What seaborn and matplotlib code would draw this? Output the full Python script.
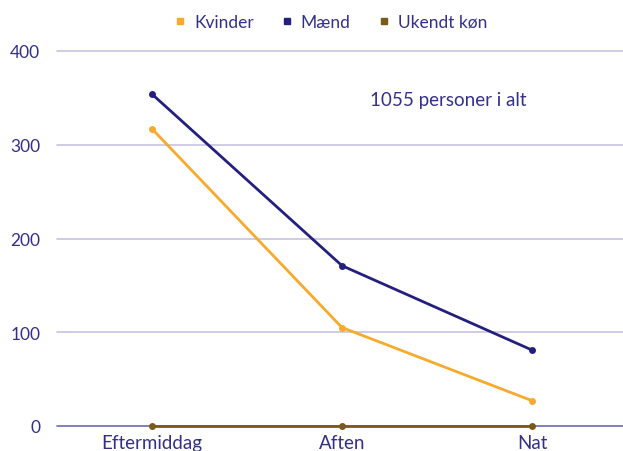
import pandas as pd
import matplotlib.pyplot as plt
import seaborn as sns

# data
perioder = ['Eftermiddag', 'Aften', 'Nat']
kvinder = [317, 105, 27]
maend = [354, 171, 81]
ukendt = [0, 0, 0]

grupper = ['Kvinder', 'Mænd', 'Ukendt køn']
farver = ['#f7aa2c', '#231f7f', '#7a5a18']
tekst_farve = '#33308a'

rows = []
for gruppe, vals in zip(grupper, [kvinder, maend, ukendt]):
    for p, v in zip(perioder, vals):
        rows.append({'periode': p, 'antal': v, 'gruppe': gruppe})
df = pd.DataFrame(rows)

sns.set_style("white")
plt.rcParams['font.family'] = ['Lato', 'DejaVu Sans']

fig = plt.figure(figsize=(6.23, 4.52), dpi=100)
ax = fig.add_axes([57 / 623, 25 / 452, 570 / 623, 375 / 452])

# grid
for yv in [100, 200, 300, 400]:
    ax.axhline(yv, color='#c6c4e0', linewidth=1.2, zorder=1)
ax.axhline(0, color='#6c68b0', linewidth=1.2, zorder=1)

sns.lineplot(data=df, x='periode', y='antal', hue='gruppe', hue_order=grupper,
             palette=farver, marker='o', markersize=5, markeredgewidth=0,
             linewidth=2, sort=False, legend=False, ax=ax, zorder=3)
for line in ax.get_lines():
    line.set_clip_on(False)

ax.set_xlim(-0.5, 2.5)
ax.set_ylim(0, 400)
ax.set_yticks([0, 100, 200, 300, 400])
ax.set_xlabel('')
ax.set_ylabel('')
for s in ax.spines.values():
    s.set_visible(False)

ax.tick_params(axis='both', length=0, colors=tekst_farve)
ax.tick_params(axis='y', pad=12, labelsize=12.5)
ax.tick_params(axis='x', pad=6, labelsize=13.5)

ax.text(1.15, 348, '1055 personer i alt', fontsize=13.5, color=tekst_farve,
        ha='left', va='center')

# legend
handles = [plt.Line2D([], [], marker='s', linestyle='', color=c, markersize=5)
           for c in farver]
fig.legend(handles, grupper, loc='center', bbox_to_anchor=(0.53, 1 - 23 / 452),
           ncol=3, frameon=False, fontsize=12.5, labelcolor=tekst_farve,
           handletextpad=0.4, columnspacing=1.5, handlelength=0.8)

fig.savefig('out.png', dpi=100)
